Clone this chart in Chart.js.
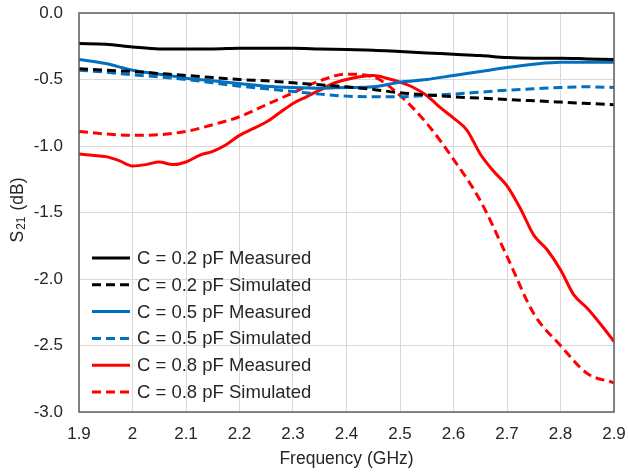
<!DOCTYPE html>
<html><head><meta charset="utf-8">
<script src="https://cdn.jsdelivr.net/npm/chart.js@4"></script>
<style>html,body{margin:0;padding:0;background:#fff}#wrap{width:628px;height:475px}</style>
</head><body><div id="wrap"><canvas id="c" width="628" height="475"></canvas></div>
<script>
const freq = [1.9,1.95,2.0,2.05,2.1,2.15,2.2,2.25,2.3,2.35,2.4,2.45,2.5,2.55,2.6,2.65,2.7,2.75,2.8,2.85,2.9];
const freqFine = [1.9,1.925,1.95,1.975,2.0,2.025,2.05,2.075,2.1,2.125,2.15,2.175,2.2,2.225,2.25,2.275,2.3,2.325,2.35,2.375,2.4,2.425,2.45,2.475,2.5,2.525,2.55,2.575,2.6,2.625,2.65,2.675,2.7,2.725,2.75,2.775,2.8,2.825,2.85,2.875,2.9];
const c02Measured  = [-0.23,-0.235,-0.255,-0.27,-0.27,-0.27,-0.265,-0.265,-0.265,-0.27,-0.275,-0.28,-0.29,-0.30,-0.31,-0.32,-0.335,-0.34,-0.34,-0.345,-0.35];
const c02Simulated = [-0.42,-0.43,-0.44,-0.455,-0.47,-0.485,-0.50,-0.51,-0.525,-0.54,-0.555,-0.575,-0.60,-0.615,-0.63,-0.64,-0.65,-0.66,-0.67,-0.68,-0.69];
const c05Measured  = [-0.35,-0.38,-0.43,-0.46,-0.49,-0.51,-0.53,-0.55,-0.56,-0.565,-0.56,-0.555,-0.52,-0.50,-0.47,-0.44,-0.41,-0.385,-0.37,-0.37,-0.37];
const c05Simulated = [-0.43,-0.445,-0.465,-0.48,-0.50,-0.525,-0.55,-0.57,-0.59,-0.61,-0.625,-0.63,-0.63,-0.62,-0.61,-0.595,-0.58,-0.57,-0.56,-0.555,-0.56];
const c08Measured  = [-1.06,-1.07,-1.08,-1.11,-1.15,-1.14,-1.12,-1.14,-1.12,-1.07,-1.04,-0.99,-0.92,-0.87,-0.82,-0.75,-0.68,-0.63,-0.58,-0.53,-0.50,-0.48,-0.47,-0.49,-0.52,-0.56,-0.62,-0.71,-0.79,-0.88,-1.06,-1.19,-1.30,-1.47,-1.67,-1.78,-1.93,-2.12,-2.22,-2.34,-2.47];
const c08Simulated = [-0.89,-0.91,-0.92,-0.915,-0.89,-0.84,-0.78,-0.69,-0.60,-0.51,-0.46,-0.48,-0.62,-0.83,-1.10,-1.41,-1.83,-2.26,-2.50,-2.71,-2.78];
const seriesLabels = ['C = 0.2 pF Measured','C = 0.2 pF Simulated','C = 0.5 pF Measured','C = 0.5 pF Simulated','C = 0.8 pF Measured','C = 0.8 pF Simulated'];
const xTicks = [1.9,2.0,2.1,2.2,2.3,2.4,2.5,2.6,2.7,2.8,2.9];
const yTicks = [0.0,-0.5,-1.0,-1.5,-2.0,-2.5,-3.0];

const FONT = 'Liberation Sans, Arial, sans-serif';
const pts = (xs, arr) => arr.map((v,i)=>({x:xs[i], y:v}));
function ds(label, xs, data, color, dashed){
  return {label, data: pts(xs, data), borderColor: color, backgroundColor: color, borderWidth: 3,
    borderDash: dashed ? [9,5] : [], pointRadius: 0, fill: false, cubicInterpolationMode:'monotone'};
}
const datasets = [
  ds(seriesLabels[0], freq, c02Measured, '#000000', false),
  ds(seriesLabels[1], freq, c02Simulated, '#000000', true),
  ds(seriesLabels[2], freq, c05Measured, '#0070C0', false),
  ds(seriesLabels[3], freq, c05Simulated, '#0070C0', true),
  ds(seriesLabels[4], freqFine, c08Measured, '#FF0000', false),
  ds(seriesLabels[5], freq, c08Simulated, '#FF0000', true),
];

const decor = {
  id: 'decor',
  afterDraw(chart){
    const ctx = chart.ctx, a = chart.chartArea;
    ctx.save();
    ctx.strokeStyle = '#5f5f5f'; ctx.lineWidth = 1.5;
    ctx.strokeRect(a.left, a.top, a.right - a.left, a.bottom - a.top);
    ctx.font = '18.5px ' + FONT; ctx.textBaseline = 'middle'; ctx.textAlign = 'left';
    chart.data.datasets.forEach((d, i) => {
      const y = 258 + i * 26.8;
      ctx.strokeStyle = d.borderColor; ctx.lineWidth = 3;
      ctx.setLineDash(d.borderDash || []);
      ctx.beginPath(); ctx.moveTo(92, y); ctx.lineTo(130, y); ctx.stroke();
      ctx.setLineDash([]);
      ctx.fillStyle = '#262626';
      ctx.fillText(d.label, 137, y + 1);
    });
    ctx.fillStyle = '#262626'; ctx.textAlign = 'center';
    ctx.font = '17.5px ' + FONT;
    ctx.fillText('Frequency (GHz)', (a.left + a.right) / 2, 459);
    ctx.translate(18, 210); ctx.rotate(-Math.PI / 2);
    const f1 = '17.5px ' + FONT, f2 = '12px ' + FONT;
    ctx.font = f1; const wS = ctx.measureText('S').width;
    ctx.font = f2; const w21 = ctx.measureText('21').width + 2;
    ctx.font = f1; const wT = ctx.measureText(' (dB)').width;
    let x = -(wS + w21 + wT) / 2;
    ctx.textAlign = 'left';
    ctx.font = f1; ctx.fillText('S', x, 0); x += wS;
    ctx.font = f2; ctx.fillText('21', x + 1, 4); x += w21;
    ctx.font = f1; ctx.fillText(' (dB)', x, 0);
    ctx.restore();
  }
};

new Chart(document.getElementById('c'), {
  type: 'line',
  data: { datasets },
  options: {
    responsive: false, animation: false, devicePixelRatio: 1,
    layout: { padding: { top: 13, right: 14, left: 0, bottom: 0 } },
    plugins: { legend: { display: false }, tooltip: { enabled: false } },
    scales: {
      x: {
        type: 'linear', min: 1.9, max: 2.9,
        afterBuildTicks: s => { s.ticks = xTicks.map(v => ({value: v})); },
        afterFit: s => { s.height = 63; s.paddingLeft = 0; s.paddingRight = 0; },
        grid: { color: '#d9d9d9', lineWidth: 1, drawTicks: false },
        border: { display: false },
        ticks: { padding: 12, color: '#262626', font: { family: FONT, size: 17 },
          callback: v => String(Number(v.toFixed(1))) }
      },
      y: {
        type: 'linear', min: -3, max: 0,
        afterBuildTicks: s => { s.ticks = yTicks.map(v => ({value: v})); },
        afterFit: s => { s.width = 79; s.paddingTop = 0; s.paddingBottom = 0; },
        grid: { color: '#d9d9d9', lineWidth: 1, drawTicks: false },
        border: { display: false },
        ticks: { padding: 16, color: '#262626', font: { family: FONT, size: 17 },
          callback: v => v.toFixed(1) }
      }
    }
  },
  plugins: [decor]
});
</script></body></html>
